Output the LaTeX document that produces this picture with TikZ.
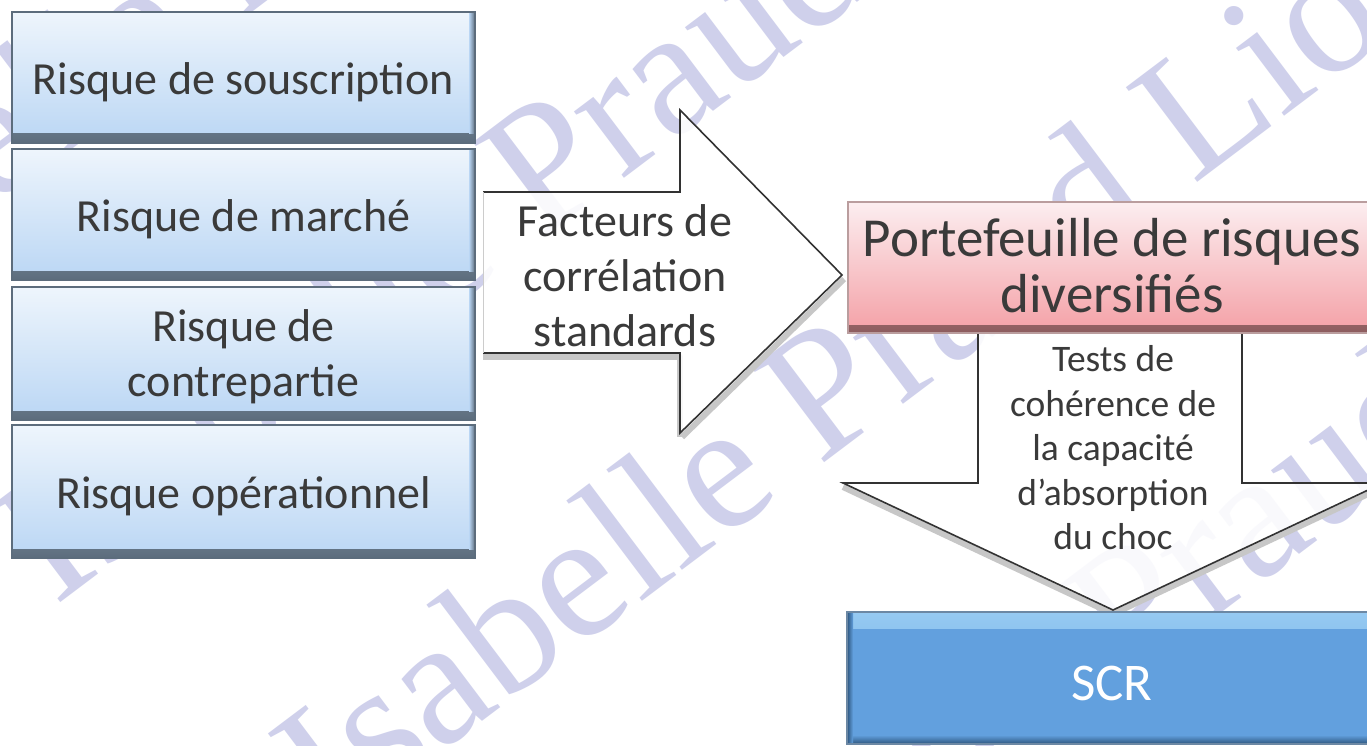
\documentclass[tikz,border=0pt]{standalone}
\usepackage{fontspec}
\setmainfont{Carlito}
\newfontfamily\wmfont{Liberation Serif}

\definecolor{txt}{RGB}{58,58,58}
\definecolor{lbtop}{RGB}{238,245,252}
\definecolor{lbbot}{RGB}{186,214,244}
\definecolor{lbedge}{RGB}{92,108,124}
\definecolor{pktop}{RGB}{252,238,240}
\definecolor{pkmid}{RGB}{248,196,200}
\definecolor{pkbot}{RGB}{244,160,166}
\definecolor{pkedge}{RGB}{140,92,94}
\definecolor{scrblue}{RGB}{98,160,222}
\definecolor{scrtop}{RGB}{150,202,242}
\definecolor{scredge}{RGB}{45,85,125}
\definecolor{arrline}{RGB}{50,50,50}
\definecolor{wm}{RGB}{178,180,224}

\tikzset{
  riskbox/.style={rectangle, inner sep=0pt, minimum width=463pt, minimum height=131pt,
    top color=lbtop, bottom color=lbbot, draw=lbedge, line width=1.2pt,
    path picture={
      \shade[top color=lbbot, bottom color=lbedge]
        ([yshift=9pt]path picture bounding box.south west) rectangle (path picture bounding box.south east);
      \shade[left color=lbbot, right color=lbedge]
        ([xshift=-6pt]path picture bounding box.north east) rectangle ([yshift=9pt]path picture bounding box.south east);
    }},
  risktext/.style={text=txt, font=\fontsize{46}{55}\selectfont, align=center, inner sep=0pt},
  pinkbox/.style={rectangle, inner sep=0pt, minimum width=528pt, minimum height=131pt,
    top color=pktop, middle color=pkmid, bottom color=pkbot, draw=pkedge!60, line width=1.2pt,
    path picture={
      \shade[top color=pkbot, bottom color=pkedge]
        ([yshift=8pt]path picture bounding box.south west) rectangle (path picture bounding box.south east);
    }},
  scrbox/.style={rectangle, inner sep=0pt, minimum width=530pt, minimum height=132pt,
    fill=scrblue, draw=scredge!70, line width=1.2pt,
    path picture={
      \shade[top color=scrtop, bottom color=scrblue]
        (path picture bounding box.north west) rectangle ([yshift=-16pt]path picture bounding box.north east);
      \shade[top color=scrblue, bottom color=scredge]
        ([yshift=9pt]path picture bounding box.south west) rectangle (path picture bounding box.south east);
      \shade[left color=scredge, right color=scrblue]
        (path picture bounding box.north west) rectangle ([xshift=6pt]path picture bounding box.south west);
    }},
  arrowtext/.style={text=txt, align=center},
  wmark/.style={anchor=base west, rotate=37, text=wm, inner sep=0pt,
    font=\wmfont\fontsize{181}{181}\selectfont},
  arrfill/.style={fill=white, fill opacity=0.88},
  arrshadow/.style={draw=black!22, line width=6pt, line join=round},
  arroutline/.style={draw=arrline, line width=1.6pt, line join=miter},
}

\begin{document}
\begin{tikzpicture}[x=1pt,y=-1pt]
\useasboundingbox (0,0) rectangle (1367,746);
\clip (0,0) rectangle (1367,746);
\fill[white] (0,0) rectangle (1367,746);

% watermark lines
\begin{scope}[opacity=0.62]
\node[wmark] (wm0) at (-248,390) {Isabelle Praud Lion};
\node[wmark] (wm1) at (55,607) {Isabelle Praud Lion};
\node[wmark] (wm2) at (334,833) {Isabelle Praud Lion};
\node[wmark] (wm3) at (641,1050) {Isabelle Praud Lion};
\end{scope}

% right block arrow
\draw[arrshadow, shift={(2,4)}] (680,433) -- (842,275);
\draw[arrshadow, shift={(0,4)}] (483,353) -- (680,353) -- (680,433);
\path[arrfill]
  (483,192) -- (680,192) -- (680,110) -- (842,275) -- (680,433) -- (680,353) -- (483,353) -- cycle;
\draw[arroutline] (483,192) -- (680,192) -- (680,110) -- (842,275) -- (680,433) -- (680,353) -- (483,353);
\draw[black!20, line width=1pt] (483,192) -- (483,353);

% down block arrow
\draw[arrshadow, shift={(0,4)}] (843,483) -- (1113,610) -- (1383,483);
\path[arrfill]
  (978,330) -- (978,483) -- (843,483) -- (1113,610) -- (1383,483) -- (1242,483) -- (1242,330) -- cycle;
\draw[arroutline] (978,330) -- (978,483) -- (843,483) -- (1113,610) -- (1383,483) -- (1242,483) -- (1242,330);

% risk modules
\node[riskbox] (souscr) at (243.5,77.5) {};
\node[riskbox] (marche) at (243.5,214.5) {};
\node[riskbox, minimum height=133pt] (contre) at (243.5,353.5) {};
\node[riskbox, minimum height=133pt] (operat) at (243.5,491.5) {};
\node[risktext] (souscrT) at ([yshift=-5pt]souscr.center) {Risque de souscription};
\node[risktext] (marcheT) at ([yshift=-5pt]marche.center) {Risque de marché};
\node[risktext] (contreT) at ([yshift=-3pt]contre.center) {Risque de\\contrepartie};
\node[risktext] (operatT) at ([yshift=-5pt]operat.center) {Risque opérationnel};

% arrow labels
\node[arrowtext, font=\fontsize{46}{55}\selectfont] (correl) at (625,276) {Facteurs de\\corrélation\\standards};
\node[arrowtext, font=\fontsize{37.5}{44.5}\selectfont] (tests) at (1113,448) {Tests de\\cohérence de\\la capacité\\d’absorption\\du choc};

% diversified portfolio and SCR
\node[pinkbox] (portef) at (1112,267.5) {};
\node[text=txt, align=center, font=\fontsize{55}{56}\selectfont] (porteftxt) at ([yshift=2pt]portef.center) {Portefeuille de risques\\diversifiés};
\node[scrbox] (scr) at (1112,678) {};
\node[text=white, font=\fontsize{53}{60}\selectfont] (scrtxt) at ([yshift=-5pt]scr.center) {SCR};
\end{tikzpicture}
\end{document}
